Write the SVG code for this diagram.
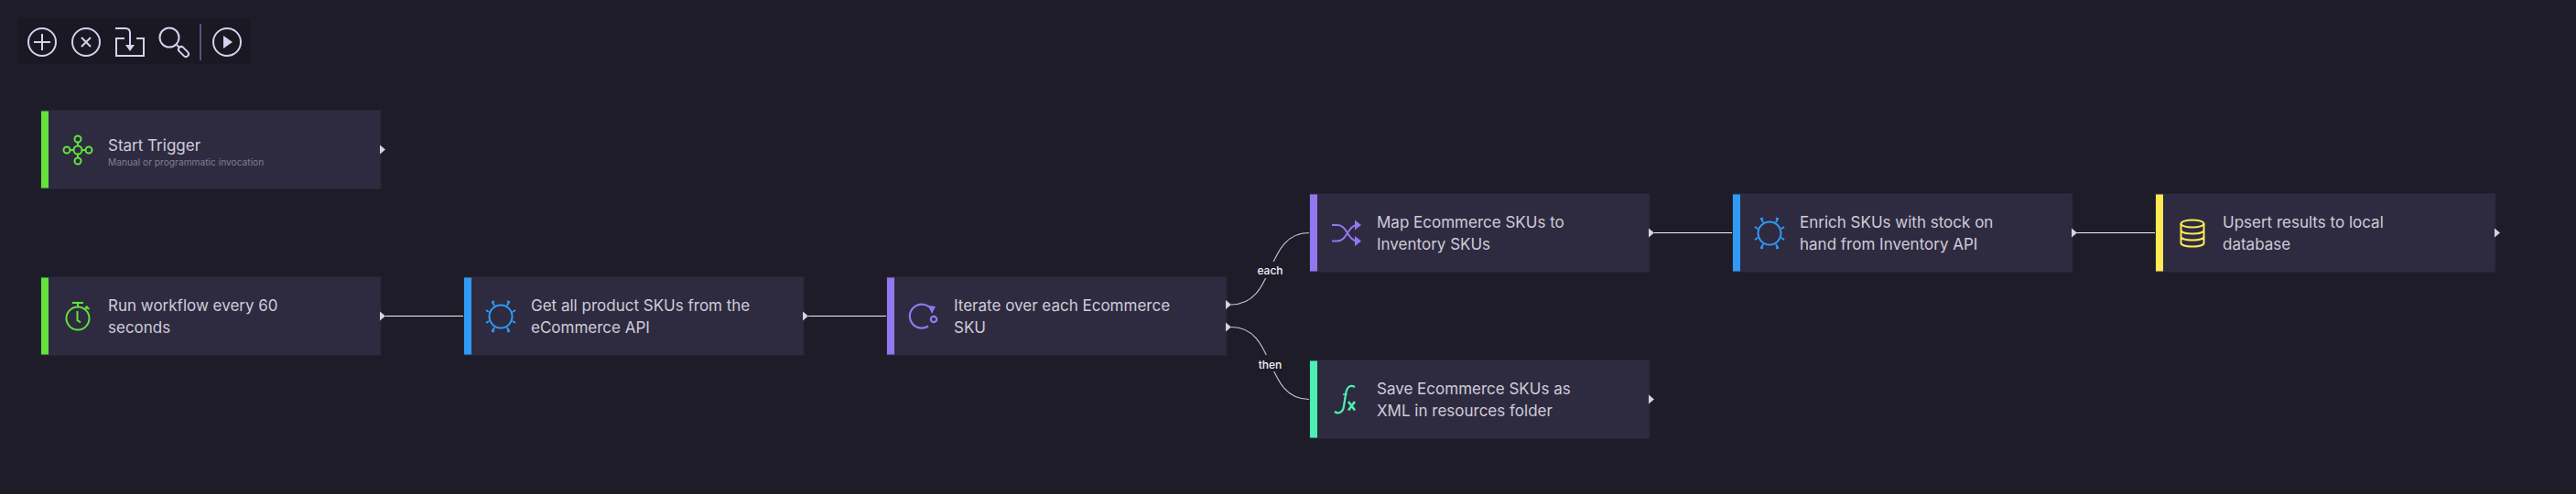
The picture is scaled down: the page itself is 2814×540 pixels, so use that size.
<svg xmlns="http://www.w3.org/2000/svg" width="2814" height="540" viewBox="0 0 2814 540">
<style>
text{font-family:Inter,"Liberation Sans",sans-serif}
.card{fill:#2e2b40;stroke:#262433;stroke-width:1}
.t{font-size:17px;fill:#cfcbd8}
.sub{font-size:10.200px;fill:#817d90}
.port{fill:#d6d3de}
.wire{fill:none;stroke:#f2f0f5;stroke-width:1.2}
.curve{fill:none;stroke:#c9c6d0;stroke-width:1.1}
.lab{font-size:12px;fill:#f4f2f8;text-anchor:middle;font-weight:500}
.ico{fill:none;stroke-width:2}
.tb{fill:none;stroke:#d8d0ec;stroke-width:2}
</style>
<defs>
<g id="gear"><circle r="12.500"/><path d="M-7-12-9-16M7-12 9-16M-7 12-9 16M7 12 9 16M-13-5-16-7M13-5 16-7M-13 5-16 7M13 5 16 7M-10-15.500-7-16.500M10-15.500 7-16.500M-10 15.500-7 16.500M10 15.500 7 16.500"/></g>
</defs>
<rect width="2814" height="540" fill="#1e1c29"/>
<g id="toolbar">
<rect x="20" y="20" width="254" height="50" fill="#1a1823"/>
<circle class="tb" cx="46" cy="46" r="15"/><path class="tb" d="M46 37V55M37 46H55"/>
<circle class="tb" cx="94" cy="46" r="15"/><path class="tb" d="M89 41 99 51M99 41 89 51"/>
<path class="tb" d="M136 42H127V61H157V42H149"/><path class="tb" d="M126 31H137Q142 31 142 36V50"/><path d="M137 49H147L142 56Z" fill="#d8d0ec"/>
<circle class="tb" cx="185" cy="41" r="10.500"/><path class="tb" d="M193 49 197 53"/><path d="M198 54 203 59" fill="none" stroke="#d8d0ec" stroke-width="8" stroke-linecap="round"/><path d="M198 54 203 59" fill="none" stroke="#1a1823" stroke-width="4" stroke-linecap="round"/>
<path d="M219 26V66" stroke="#5a5080" stroke-width="2"/>
<circle class="tb" cx="248" cy="46" r="15"/><path d="M244 39 254 46 244 53Z" fill="#d8d0ec"/>
</g>
<g id="connectors">
<path class="wire" d="M421 345.500H506"/>
<path class="wire" d="M883 345.500H969"/>
<path class="curve" d="M1345 333C1395 333 1380 254.500 1430 254.500"/>
<path class="curve" d="M1345 357.500C1395 357.500 1380 436.500 1430 436.500"/>
<path class="wire" d="M1807 254.500H1892"/>
<path class="wire" d="M2268 254.500H2354"/>
<rect x="1372" y="286" width="31" height="18" fill="#1e1c29"/>
<text class="lab" x="1387.500" y="299.500">each</text>
<rect x="1372" y="388" width="31" height="18" fill="#1e1c29"/>
<text class="lab" x="1387.500" y="402.500">then</text>
</g>
<g id="start-trigger">
<rect class="card" x="44.500" y="120.500" width="371.500" height="86"/><rect x="45" y="121.500" width="8" height="84" fill="#63e23c"/>
<g class="ico" stroke="#63e23c"><circle cx="85" cy="164" r="4.500"/><circle cx="85" cy="152" r="3.500"/><circle cx="85" cy="176" r="3.500"/><circle cx="73" cy="164" r="3.500"/><circle cx="97" cy="164" r="3.500"/><path d="M85 155.500V159.500M85 168.500V172.500M76.500 164H80.500M89.500 164H93.500"/></g>
<text class="t" x="118" y="165">Start Trigger</text>
<text class="sub" x="118" y="181">Manual or programmatic invocation</text>
<path class="port" d="M415 158.500 421 163.500 415 168.500Z"/>
</g>
<g id="run-workflow">
<rect class="card" x="44.500" y="302.500" width="371.500" height="86"/><rect x="45" y="303.500" width="8" height="84" fill="#63e23c"/>
<g class="ico" stroke="#63e23c"><circle cx="85" cy="348" r="12.500"/><path d="M85 331V335.500M79 331H91M92.500 338.500 96 335M93.500 335 97.500 338M84.500 340V350L88 352.500"/></g>
<text class="t"><tspan x="118" y="340">Run workflow every 60</tspan><tspan x="118" y="364">seconds</tspan></text>
<path class="port" d="M415 340.500 421 345.500 415 350.500Z"/>
</g>
<g id="get-skus">
<rect class="card" x="506.500" y="302.500" width="371.500" height="86"/><rect x="507" y="303.500" width="8" height="84" fill="#2f9bf7"/>
<use href="#gear" x="547" y="346" class="ico" stroke="#2f9bf7"/>
<text class="t"><tspan x="580" y="340">Get all product SKUs from the</tspan><tspan x="580" y="364">eCommerce API</tspan></text>
<path class="port" d="M877 340.500 883 345.500 877 350.500Z"/>
</g>
<g id="iterate">
<rect class="card" x="968.500" y="302.500" width="371.500" height="86"/><rect x="969" y="303.500" width="8" height="84" fill="#9178f0"/>
<g class="ico" stroke="#9178f0"><path d="M1018 339A13 13 0 1 0 1014 356.500" stroke-width="2.200"/><circle cx="1020" cy="349" r="3.200" stroke-width="2.200"/></g>
<path d="M1014 334 1022 335 1018 343Z" fill="#9178f0"/>
<text class="t"><tspan x="1042" y="340">Iterate over each Ecommerce</tspan><tspan x="1042" y="364">SKU</tspan></text>
<path class="port" d="M1339 328 1345 333 1339 338Z"/>
<path class="port" d="M1339 352.500 1345 357.500 1339 362.500Z"/>
</g>
<g id="map-skus">
<rect class="card" x="1430.500" y="211.500" width="371.500" height="86"/><rect x="1431" y="212.500" width="8" height="84" fill="#9178f0"/>
<g class="ico" stroke="#9178f0" stroke-width="2.200"><path d="M1455 246H1461C1472 246 1472 263.500 1483 263.500H1484M1455 263.500H1461C1472 263.500 1472 246 1483 246H1484"/></g>
<path d="M1480 240.500 1487 246 1480 251.500ZM1480 258 1487 263.500 1480 269Z" fill="#9178f0"/>
<text class="t"><tspan x="1504" y="249">Map Ecommerce SKUs to</tspan><tspan x="1504" y="273">Inventory SKUs</tspan></text>
<path class="port" d="M1801 249.500 1807 254.500 1801 259.500Z"/>
</g>
<g id="enrich-skus">
<rect class="card" x="1892.500" y="211.500" width="371.500" height="86"/><rect x="1893" y="212.500" width="8" height="84" fill="#2f9bf7"/>
<use href="#gear" x="1933" y="255" class="ico" stroke="#2f9bf7"/>
<text class="t"><tspan x="1966" y="249">Enrich SKUs with stock on</tspan><tspan x="1966" y="273">hand from Inventory API</tspan></text>
<path class="port" d="M2263 249.500 2269 254.500 2263 259.500Z"/>
</g>
<g id="upsert-results">
<rect class="card" x="2354.500" y="211.500" width="371.500" height="86"/><rect x="2355" y="212.500" width="8" height="84" fill="#ffe957"/>
<g class="ico" stroke="#ffe957"><ellipse cx="2395" cy="244.500" rx="12.500" ry="4"/><path d="M2382.500 244.500V265.500C2382.500 268 2388 269.500 2395 269.500S2407.500 268 2407.500 265.500V244.500M2382.500 251.500C2382.500 254 2388 255.500 2395 255.500S2407.500 254 2407.500 251.500M2382.500 258.500C2382.500 261 2388 262.500 2395 262.500S2407.500 261 2407.500 258.500"/></g>
<text class="t"><tspan x="2428" y="249">Upsert results to local</tspan><tspan x="2428" y="273">database</tspan></text>
<path class="port" d="M2725 249.500 2731 254.500 2725 259.500Z"/>
</g>
<g id="save-skus">
<rect class="card" x="1430.500" y="393.500" width="371.500" height="86"/><rect x="1431" y="394.500" width="8" height="84" fill="#4cf0b0"/>
<g class="ico" stroke="#4cf0b0"><path d="M1480 423C1474 420 1471 424 1470 431L1468 444C1467 451 1462 453 1458 450" stroke-width="2.200"/><path d="M1467 431H1471.500" stroke-width="1.500"/><path d="M1473 439 1480 448.500M1480 439 1473 448.500" stroke-width="2.600"/></g>
<text class="t"><tspan x="1504" y="431">Save Ecommerce SKUs as</tspan><tspan x="1504" y="455">XML in resources folder</tspan></text>
<path class="port" d="M1801 431.500 1807 436.500 1801 441.500Z"/>
</g>
</svg>
